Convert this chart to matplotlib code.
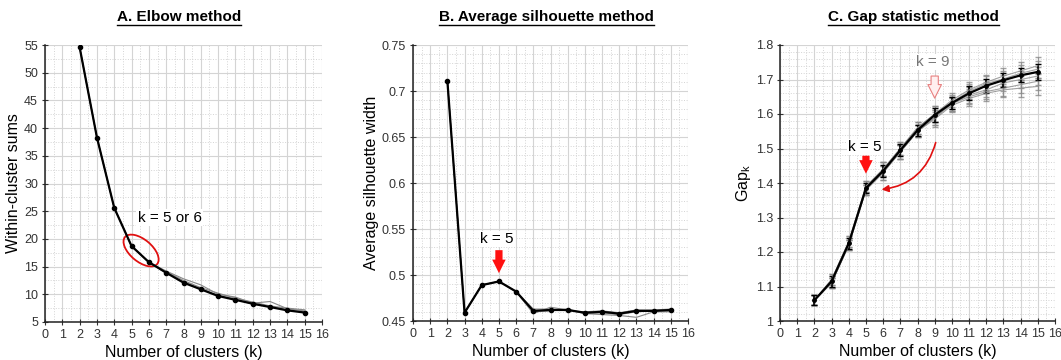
import numpy as np
import matplotlib
matplotlib.use('Agg')
import matplotlib.pyplot as plt
from matplotlib.patches import Ellipse
from matplotlib.lines import Line2D
import matplotlib.transforms as mtransforms

plt.rcParams['font.family'] = ['Liberation Sans', 'DejaVu Sans']

# Data
k = [2, 3, 4, 5, 6, 7, 8, 9, 10, 11, 12, 13, 14, 15]

elbow_mean = [54.6, 38.3, 25.6, 18.7, 15.8, 13.9, 12.1, 10.9, 9.7, 9.0, 8.3, 7.7, 7.1, 6.7]
elbow_run1 = [54.6, 38.3, 25.6, 18.7, 15.8, 14.2, 12.8, 11.7, 10.0, 9.5, 8.4, 8.7, 7.4, 7.0]
elbow_run2 = [54.6, 38.3, 25.6, 18.7, 15.8, 14.1, 12.5, 11.2, 10.2, 9.3, 8.6, 7.9, 7.5, 7.2]
elbow_run3 = [54.6, 38.3, 25.6, 18.7, 15.8, 13.8, 12.3, 11.0, 9.8, 9.1, 8.2, 7.8, 7.2, 6.8]

sil_mean = [0.711, 0.459, 0.489, 0.493, 0.482, 0.461, 0.462, 0.462, 0.459, 0.460, 0.458, 0.461, 0.461, 0.462]
sil_run1 = [0.711, 0.459, 0.489, 0.493, 0.482, 0.458, 0.465, 0.462, 0.458, 0.457, 0.456, 0.454, 0.460, 0.460]
sil_run2 = [0.711, 0.459, 0.489, 0.493, 0.482, 0.463, 0.463, 0.461, 0.460, 0.461, 0.459, 0.462, 0.462, 0.463]
sil_run3 = [0.711, 0.459, 0.489, 0.493, 0.482, 0.460, 0.461, 0.463, 0.458, 0.459, 0.457, 0.460, 0.461, 0.461]

gap_mean = [1.06, 1.115, 1.225, 1.385, 1.435, 1.495, 1.553, 1.597, 1.632, 1.660, 1.682, 1.698, 1.712, 1.722]
gap_err = [0.015, 0.015, 0.015, 0.015, 0.018, 0.018, 0.016, 0.02, 0.018, 0.02, 0.02, 0.02, 0.02, 0.022]
gap_run1 = [1.06, 1.11, 1.22, 1.38, 1.44, 1.49, 1.55, 1.59, 1.63, 1.650, 1.665, 1.675, 1.685, 1.695]
gap_run2 = [1.06, 1.12, 1.23, 1.39, 1.44, 1.50, 1.56, 1.60, 1.64, 1.670, 1.692, 1.710, 1.725, 1.740]
gap_run3 = [1.06, 1.11, 1.22, 1.38, 1.43, 1.49, 1.55, 1.59, 1.63, 1.655, 1.670, 1.690, 1.700, 1.710]
gap_run4 = [1.06, 1.12, 1.23, 1.39, 1.44, 1.50, 1.56, 1.60, 1.635, 1.665, 1.688, 1.702, 1.718, 1.730]
gap_run5 = [1.06, 1.11, 1.22, 1.38, 1.43, 1.49, 1.55, 1.585, 1.625, 1.645, 1.660, 1.670, 1.675, 1.680]
gap_run_err = [0.015, 0.015, 0.015, 0.015, 0.02, 0.02, 0.018, 0.022, 0.02, 0.022, 0.022, 0.022, 0.025, 0.025]

xticks = list(range(0, 17))


def style_axes(ax, ylim, ystep, yminor):
    ax.set_xlim(0, 16)
    ax.set_ylim(*ylim)
    ax.set_xticks(xticks)
    ax.set_xticks(np.arange(0, 16.01, 0.5), minor=True)
    ax.set_yticks(np.arange(ylim[0], ylim[1] + ystep / 2, ystep))
    ax.set_yticks(np.arange(ylim[0], ylim[1] + yminor / 2, yminor), minor=True)
    ax.yaxis.set_major_formatter(matplotlib.ticker.FuncFormatter(lambda v, p: '%g' % round(v, 3)))
    ax.grid(which='major', color='#d4d4d4', linewidth=0.8, linestyle='-')
    ax.grid(which='minor', color='#d4d4d4', linewidth=0.7, linestyle=':')
    ax.set_axisbelow(True)
    for s in ['top', 'right']:
        ax.spines[s].set_visible(False)
    for s in ['left', 'bottom']:
        ax.spines[s].set_color('#222222')
        ax.spines[s].set_linewidth(1.1)
    ax.tick_params(which='major', direction='inout', length=4, labelsize=9, colors='#333333', pad=3)
    ax.tick_params(which='minor', length=0)
    ax.set_xlabel('Number of clusters (k)', fontsize=11.5, labelpad=3)


fig = plt.figure(figsize=(10.61, 3.6), dpi=100)
axA = fig.add_axes([45 / 1061, 1 - 322 / 360, 277 / 1061, 277 / 360])
axB = fig.add_axes([413 / 1061, 1 - 321 / 360, 275 / 1061, 276 / 360])
axC = fig.add_axes([780 / 1061, 1 - 321 / 360, 275 / 1061, 276 / 360])

# A. Elbow
style_axes(axA, (5, 55), 5, 2.5)
for run in [elbow_run1, elbow_run2, elbow_run3]:
    axA.plot(k, run, color='#888888', linewidth=0.8)
axA.plot(k, elbow_mean, color='black', linewidth=1.6, marker='o', markersize=3)
axA.set_ylabel('Within-cluster sums', fontsize=11.5, labelpad=2)
axA.text(7.2, 23.8, 'k = 5 or 6', fontsize=11, ha='center', va='center',
         bbox=dict(facecolor='white', edgecolor='none', pad=1))
ell_tr = fig.dpi_scale_trans + mtransforms.ScaledTranslation(5.55, 17.9, axA.transData)
axA.add_patch(Ellipse((0, 0), 0.42, 0.22, angle=-40, transform=ell_tr,
                      fill=False, edgecolor='#e01010', linewidth=1.3))

arrow_style = 'simple,head_width=0.75,head_length=0.75,tail_width=0.4'

# B. Silhouette
style_axes(axB, (0.45, 0.75), 0.05, 0.01)
for run in [sil_run1, sil_run2, sil_run3]:
    axB.plot(k, run, color='#888888', linewidth=0.8)
axB.plot(k, sil_mean, color='black', linewidth=1.6, marker='o', markersize=3)
axB.set_ylabel('Average silhouette width', fontsize=11.5, labelpad=2)
axB.text(4.9, 0.539, 'k = 5', fontsize=11, ha='center', va='center',
         bbox=dict(facecolor='white', edgecolor='none', pad=1))
axB.annotate('', xy=(5, 0.502), xytext=(5, 0.527),
             arrowprops=dict(arrowstyle=arrow_style, mutation_scale=13,
                             color='#ff1010', lw=0, shrinkA=0, shrinkB=0))

# C. Gap
style_axes(axC, (1.0, 1.8), 0.1, 0.02)
for run in [gap_run1, gap_run2, gap_run3, gap_run4, gap_run5]:
    axC.errorbar(k, run, yerr=gap_run_err, color='#8a8a8a', linewidth=0.8,
                 elinewidth=0.9, capsize=2, alpha=0.8)
axC.errorbar(k, gap_mean, yerr=gap_err, color='black', linewidth=1.6,
             elinewidth=1.2, capsize=2, marker='o', markersize=2.5)
axC.set_ylabel('Gap$_\\mathregular{k}$', fontsize=11.5, labelpad=2)
axC.text(4.95, 1.504, 'k = 5', fontsize=11, ha='center', va='center',
         bbox=dict(facecolor='white', edgecolor='none', pad=1))
axC.annotate('', xy=(5, 1.427), xytext=(5, 1.479),
             arrowprops=dict(arrowstyle=arrow_style, mutation_scale=13,
                             color='#ff1010', lw=0, shrinkA=0, shrinkB=0))
axC.text(8.9, 1.751, 'k = 9', fontsize=11, ha='center', va='center', color='#777777',
         bbox=dict(facecolor='white', edgecolor='none', pad=1))
axC.annotate('', xy=(9, 1.646), xytext=(9, 1.71),
             arrowprops=dict(arrowstyle=arrow_style, mutation_scale=13,
                             facecolor='#fff0f0', edgecolor='#e88080', lw=0.8,
                             shrinkA=0, shrinkB=0))
axC.annotate('', xy=(5.75, 1.38), xytext=(9.1, 1.525),
             arrowprops=dict(arrowstyle='-|>,head_width=0.2,head_length=0.4', color='#e01010',
                             lw=1.2, connectionstyle='arc3,rad=-0.35'))

# titles, underlined
titles = [(axA, 'A. Elbow method'), (axB, 'B. Average silhouette method'),
          (axC, 'C. Gap statistic method')]
title_objs = []
for ax, t in titles:
    bb = ax.get_position()
    cx = (bb.x0 + bb.x1) / 2
    title_objs.append(fig.text(cx - 0.004, 1 - 17 / 360, t, fontsize=11, fontweight='bold',
                               ha='center', va='center'))
fig.canvas.draw()
r = fig.canvas.get_renderer()
for txt in title_objs:
    e = txt.get_window_extent(r)
    y = (e.y0 - 1) / fig.bbox.height
    fig.lines.append(Line2D([e.x0 / fig.bbox.width, e.x1 / fig.bbox.width], [y, y],
                            transform=fig.transFigure, color='black', linewidth=1.0))

fig.savefig('out.png', dpi=100)
